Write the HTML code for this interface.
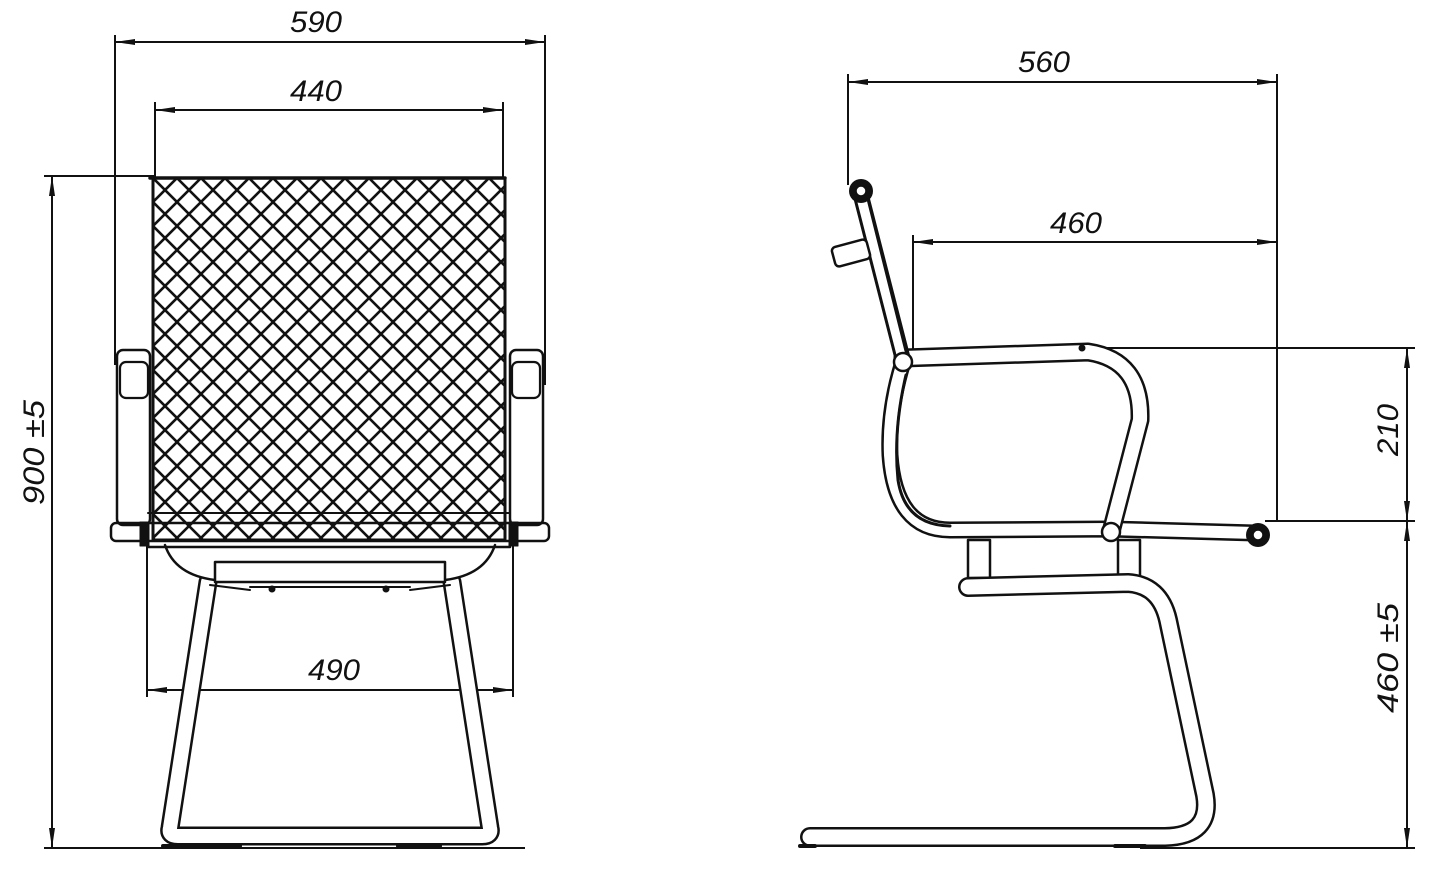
<!DOCTYPE html>
<html><head><meta charset="utf-8"><style>
html,body{margin:0;padding:0;background:#fff;}
svg{display:block;}
text{font-family:"Liberation Sans",sans-serif;font-style:italic;font-size:30px;fill:#111;}
</style></head><body>
<svg width="1433" height="873" viewBox="0 0 1433 873" xmlns="http://www.w3.org/2000/svg">
<defs>
<pattern id="mesh" x="153" y="178" width="24" height="24" patternUnits="userSpaceOnUse">
<path d="M-2,-2 L26,26 M-2,22 L2,26 M22,-2 L26,2 M26,-2 L-2,26 M-2,2 L2,-2 M22,26 L26,22" stroke="#111" stroke-width="2.6"/>
</pattern>
<marker id="ar" viewBox="0 0 20 8" refX="20" refY="4" markerWidth="20" markerHeight="8" orient="auto-start-reverse" markerUnits="userSpaceOnUse">
<path d="M0,1 L20,4 L0,7 Z" fill="#111"/>
</marker>
</defs>
<g stroke="#111" stroke-width="2" fill="none">
<!-- FRONT dims -->
<line x1="115" y1="35" x2="115" y2="365"/>
<line x1="545" y1="35" x2="545" y2="385"/>
<line x1="108" y1="42" x2="550" y2="42" stroke-width="0"/>
<line x1="115" y1="42" x2="545" y2="42" marker-start="url(#ar)" marker-end="url(#ar)"/>
<line x1="155" y1="102" x2="155" y2="178"/>
<line x1="503" y1="102" x2="503" y2="178"/>
<line x1="155" y1="110" x2="503" y2="110" marker-start="url(#ar)" marker-end="url(#ar)"/>
<line x1="44" y1="176" x2="155" y2="176"/>
<line x1="52" y1="176" x2="52" y2="848" marker-start="url(#ar)" marker-end="url(#ar)"/>
<line x1="44" y1="848" x2="525" y2="848"/>
<line x1="147" y1="540" x2="147" y2="697"/>
<line x1="513" y1="540" x2="513" y2="697"/>
<line x1="147" y1="690" x2="513" y2="690" marker-start="url(#ar)" marker-end="url(#ar)"/>
<!-- SIDE dims -->
<line x1="848" y1="74" x2="848" y2="185"/>
<line x1="1277" y1="74" x2="1277" y2="522"/>
<line x1="848" y1="82" x2="1277" y2="82" marker-start="url(#ar)" marker-end="url(#ar)"/>
<line x1="913" y1="235" x2="913" y2="362"/>
<line x1="913" y1="242" x2="1277" y2="242" marker-start="url(#ar)" marker-end="url(#ar)"/>
<line x1="1085" y1="348" x2="1415" y2="348"/>
<line x1="1265" y1="521" x2="1415" y2="521"/>
<line x1="1407" y1="348" x2="1407" y2="521" marker-start="url(#ar)" marker-end="url(#ar)"/>
<line x1="1407" y1="521" x2="1407" y2="848" marker-start="url(#ar)" marker-end="url(#ar)"/>
<line x1="1140" y1="848" x2="1415" y2="848"/>
</g>
<!-- labels -->
<text x="290" y="32" textLength="52" lengthAdjust="spacingAndGlyphs">590</text>
<text x="290" y="101" textLength="52" lengthAdjust="spacingAndGlyphs">440</text>
<text x="308" y="680" textLength="52" lengthAdjust="spacingAndGlyphs">490</text>
<text x="1018" y="72" textLength="52" lengthAdjust="spacingAndGlyphs">560</text>
<text x="1050" y="233" textLength="52" lengthAdjust="spacingAndGlyphs">460</text>
<text transform="translate(44,505) rotate(-90)" textLength="105" lengthAdjust="spacingAndGlyphs">900  ±5</text>
<text transform="translate(1398,456) rotate(-90)" textLength="52" lengthAdjust="spacingAndGlyphs">210</text>
<text transform="translate(1398,713) rotate(-90)" textLength="110" lengthAdjust="spacingAndGlyphs">460  ±5</text>

<!-- FRONT chair -->
<g stroke="#111" fill="none" stroke-linejoin="round" stroke-linecap="round">
<!-- legs as tubes -->
<path d="M208,582 L170,828 Q168,836 178,836 L482,836 Q492,836 490,828 L452,582" stroke="#111" stroke-width="19"/>
<path d="M208,582 L170,828 Q168,836 178,836 L482,836 Q492,836 490,828 L452,582" stroke="#fff" stroke-width="14"/>
<!-- under seat -->
<path d="M165,545 Q175,575 215,580 L445,580 Q485,575 495,545" fill="#fff" stroke-width="2.5"/>
<rect x="215" y="562" width="230" height="20" fill="#fff" stroke-width="2.5"/>
<path d="M210,585 L250,590 M450,585 L410,590 M250,587 L410,587" stroke-width="2"/>
<circle cx="272" cy="589" r="3" fill="#111"/><circle cx="386" cy="589" r="3" fill="#111"/>
<!-- arms -->
<rect x="117" y="350" width="33" height="175" rx="6" fill="#fff" stroke-width="2.5"/>
<rect x="120" y="362" width="28" height="36" rx="6" fill="#fff" stroke-width="2.2"/>
<rect x="510" y="350" width="33" height="175" rx="6" fill="#fff" stroke-width="2.5"/>
<rect x="512" y="362" width="28" height="36" rx="6" fill="#fff" stroke-width="2.2"/>
<!-- backrest mesh -->
<rect x="153" y="178" width="352" height="362" fill="url(#mesh)" stroke="none"/>
<rect x="153" y="178" width="352" height="362" stroke-width="3"/>
<line x1="150" y1="178" x2="505" y2="178" stroke-width="3.5"/>
<!-- seat bar -->
<rect x="111" y="523" width="438" height="18" rx="5" fill="none" stroke-width="2.5"/>
<line x1="148" y1="513" x2="510" y2="513" stroke-width="2"/>
<line x1="148" y1="547" x2="510" y2="547" stroke-width="2.5"/>
<rect x="140" y="522" width="9" height="24" fill="#111"/>
<rect x="509" y="522" width="9" height="24" fill="#111"/>
<line x1="163" y1="846" x2="240" y2="846" stroke-width="4"/>
<line x1="398" y1="846" x2="440" y2="846" stroke-width="4"/>
</g>

<!-- SIDE chair -->
<g stroke="#111" fill="none" stroke-linejoin="round" stroke-linecap="round">
<!-- supports -->
<rect x="968" y="540" width="22" height="38" fill="#fff" stroke-width="2.5"/>
<rect x="1118" y="540" width="22" height="38" fill="#fff" stroke-width="2.5"/>
<!-- base tube -->
<path d="M968,587 L1128,583 Q1160,585 1168,620 L1205,795 Q1212,836 1165,837 L810,837" stroke="#111" stroke-width="20"/>
<path d="M968,587 L1128,583 Q1160,585 1168,620 L1205,795 Q1212,836 1165,837 L810,837" stroke="#fff" stroke-width="15"/>
<line x1="800" y1="846" x2="815" y2="846" stroke-width="4"/>
<line x1="1115" y1="846" x2="1145" y2="846" stroke-width="4"/>
<!-- seat frame -->
<path d="M903,362 Q888,410 890,455 Q895,530 950,530 L1110,529 L1255,533" stroke="#111" stroke-width="17"/>
<path d="M903,362 Q888,410 890,455 Q895,530 950,530 L1110,529 L1255,533" stroke="#fff" stroke-width="12"/>
<path d="M906,375 Q893,430 898,480 Q905,525 950,526" stroke="#111" stroke-width="3"/>
<!-- armrest -->
<path d="M903,358 L1088,352 Q1142,360 1140,420 L1112,528" stroke="#111" stroke-width="19"/>
<path d="M903,358 L1088,352 Q1142,360 1140,420 L1112,528" stroke="#fff" stroke-width="14"/>
<circle cx="1082" cy="348" r="3" fill="#111"/>
<!-- backrest -->
<path d="M860,192 L903,360" stroke="#111" stroke-width="16"/>
<path d="M860,192 L903,360" stroke="#fff" stroke-width="10"/>
<path d="M867,195 L907,355" stroke="#111" stroke-width="3"/>
<rect x="833" y="243" width="36" height="20" rx="4" transform="rotate(-15 851 253)" fill="#fff" stroke-width="2.5"/>
<!-- joints -->
<circle cx="903" cy="362" r="9" fill="#fff" stroke-width="2.5"/>
<circle cx="1111" cy="532" r="9" fill="#fff" stroke-width="2.5"/>
<circle cx="861" cy="191" r="12" fill="#111" stroke="none"/>
<circle cx="861" cy="191" r="5" fill="#fff" stroke="#111" stroke-width="1.5"/>
<circle cx="1258" cy="535" r="12" fill="#111" stroke="none"/>
<circle cx="1258" cy="535" r="5" fill="#fff" stroke="#111" stroke-width="1.5"/>
</g>
</svg>
</body></html>
